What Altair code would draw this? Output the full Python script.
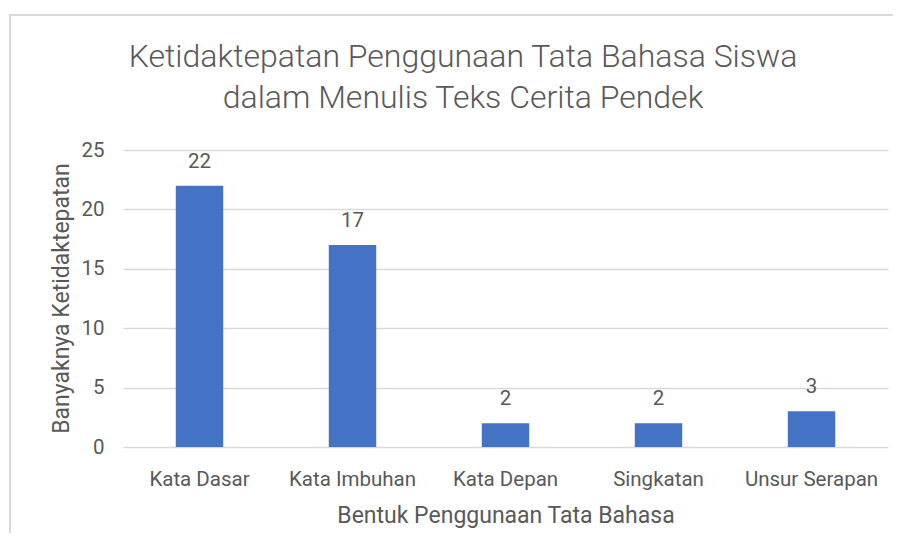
import altair as alt
import pandas as pd

categories = ["Kata Dasar", "Kata Imbuhan", "Kata Depan", "Singkatan", "Unsur Serapan"]
values = [22, 17, 2, 2, 3]
y_ticks = [0, 5, 10, 15, 20, 25]
title_lines = ["Ketidaktepatan Penggunaan Tata Bahasa Siswa", "dalam Menulis Teks Cerita Pendek"]
x_title = "Bentuk Penggunaan Tata Bahasa"
y_title = "Banyaknya Ketidaktepatan"

df = pd.DataFrame({"kategori": categories, "jumlah": values})

FONT = "Roboto"
TXT = "#595959"
GRID = "#D9D9D9"
BAR = "#4472C4"

base = alt.Chart(df)

x_enc = alt.X(
    "kategori:N",
    sort=categories,
    scale=alt.Scale(paddingInner=0.69, paddingOuter=0.345),
    axis=alt.Axis(
        title=x_title,
        labelAngle=0,
        ticks=False,
        domain=False,
        grid=False,
        labelPadding=22,
        labelFontSize=20.5,
        labelColor=TXT,
        labelFont=FONT,
        titleFont=FONT,
        titleFontSize=23,
        titleFontWeight="normal",
        titleColor=TXT,
        titleY=68,
        titleBaseline="middle",
    ),
)

y_enc = alt.Y(
    "jumlah:Q",
    scale=alt.Scale(domain=[0, 25], nice=False),
    axis=alt.Axis(
        title=y_title,
        values=y_ticks,
        ticks=False,
        domain=False,
        grid=True,
        gridColor=GRID,
        gridWidth=1.5,
        labelPadding=19,
        labelFontSize=20.5,
        labelColor=TXT,
        labelFont=FONT,
        titleFont=FONT,
        titleFontSize=23,
        titleFontWeight="normal",
        titleColor=TXT,
        titleAngle=270,
        titleX=-62,
        titleY=148,
        titleBaseline="middle",
        titleAlign="center",
    ),
)

bars = base.mark_bar(color=BAR).encode(x=x_enc, y=y_enc)

labels = base.mark_text(
    baseline="alphabetic", dy=-18, fontSize=20.5, color=TXT, font=FONT
).encode(x=alt.X("kategori:N", sort=categories), y="jumlah:Q", text="jumlah:Q")

deco = alt.Chart(pd.DataFrame({"b": [0]}))

border_top = deco.mark_rule(color=GRID, strokeWidth=2, clip=False).encode(
    x=alt.value(-114), x2=alt.value(800), y=alt.value(-135)
)
border_left = deco.mark_rule(color=GRID, strokeWidth=2, clip=False).encode(
    x=alt.value(-113), y=alt.value(-136), y2=alt.value(500)
)

title = deco.mark_text(
    text=title_lines,
    font=FONT,
    fontSize=32,
    fontWeight=300,
    color=TXT,
    align="center",
    baseline="alphabetic",
    lineHeight=41,
).encode(x=alt.value(340), y=alt.value(-83))

chart = (
    alt.layer(border_top, border_left, bars, labels, title)
    .properties(
        width=765,
        height=297,
        autosize=alt.AutoSizeParams(type="none"),
        padding={"left": 115, "top": 142, "right": 5, "bottom": 86},
        view=alt.ViewBackground(stroke="transparent", strokeWidth=0),
    )
    .configure_view(strokeWidth=0, stroke="transparent")
    .configure(background="white")
)

chart.save("out.html", embed_options={"renderer": "svg", "actions": False})
